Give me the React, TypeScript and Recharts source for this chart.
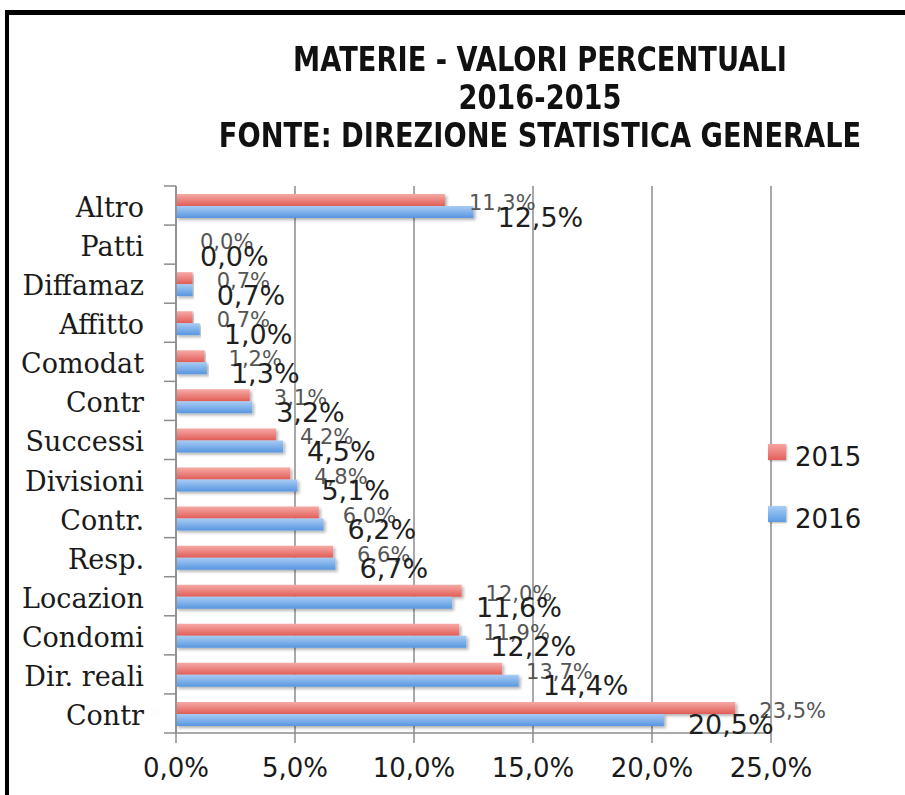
import { BarChart, Bar, XAxis, YAxis, CartesianGrid, Legend, LabelList } from 'recharts';

const categories = ['Altro', 'Patti', 'Diffamaz', 'Affitto', 'Comodat', 'Contr', 'Successi', 'Divisioni', 'Contr.', 'Resp.', 'Locazion', 'Condomi', 'Dir. reali', 'Contr'];
const values2015 = [11.3, 0.0, 0.7, 0.7, 1.2, 3.1, 4.2, 4.8, 6.0, 6.6, 12.0, 11.9, 13.7, 23.5];
const values2016 = [12.5, 0.0, 0.7, 1.0, 1.3, 3.2, 4.5, 5.1, 6.2, 6.7, 11.6, 12.2, 14.4, 20.5];
const xTicks = [0, 5, 10, 15, 20, 25];
const titleLines = ['MATERIE - VALORI PERCENTUALI', '2016-2015', 'FONTE: DIREZIONE STATISTICA GENERALE'];

const data = categories.map((name, i) => ({ name, y2015: values2015[i], y2016: values2016[i] }));

const PLOT_LEFT = 176;
const PLOT_TOP = 186;
const PLOT_BOTTOM = 733;
const BAND = (PLOT_BOTTOM - PLOT_TOP) / categories.length;

const fmt = (v: number) => v.toFixed(1).replace('.', ',') + '%';

const SANS = '"DejaVu Sans", Verdana, sans-serif';
const SERIF = '"DejaVu Serif", Georgia, serif';

function CatTick(props: any) {
  const { y, payload, index } = props;
  return (
    <g>
      <text x={144} y={y + 2} textAnchor="end" dominantBaseline="central" fontFamily={SERIF} fontSize={27} fill="#1a1a1a">
        {payload.value}
      </text>
      <line x1={164} x2={PLOT_LEFT} y1={y - BAND / 2} y2={y - BAND / 2} stroke="#8c8c8c" strokeWidth={1.5} />
      {index === categories.length - 1 && (
        <line x1={164} x2={PLOT_LEFT} y1={y + BAND / 2} y2={y + BAND / 2} stroke="#8c8c8c" strokeWidth={1.5} />
      )}
    </g>
  );
}

function ValTick(props: any) {
  const { x, payload } = props;
  return (
    <text x={x} y={768} textAnchor="middle" dominantBaseline="central" fontFamily={SANS} fontSize={26} fill="#1a1a1a">
      {fmt(payload.value)}
    </text>
  );
}

const makeLabel = (dy: number, size: number, color: string) => (props: any) => {
  const { x, y, width, height, value } = props;
  return (
    <text x={x + width + 24} y={y + height / 2 + dy} dominantBaseline="central" fontFamily={SANS} fontSize={size} fill={color}>
      {fmt(Number(value) || 0)}
    </text>
  );
};

function LegendBox(props: any) {
  const items = props.payload || [];
  return (
    <div>
      {items.map((it: any, i: number) => (
        <div key={it.value} style={{ display: 'flex', alignItems: 'center', height: 22, marginBottom: i === 0 ? 40 : 0 }}>
          <div
            style={{
              width: 18,
              height: 16,
              background: i === 0 ? 'linear-gradient(#f5a6a2, #e45f59)' : 'linear-gradient(#a9cdf5, #5b9be2)',
              boxShadow: '1px 1px 2px rgba(0,0,0,0.3)',
            }}
          />
          <span style={{ marginLeft: 9, position: 'relative', top: 5, fontFamily: SANS, fontSize: 26, color: '#1a1a1a', lineHeight: '22px' }}>
            {it.value}
          </span>
        </div>
      ))}
    </div>
  );
}

export default function App() {
  return (
    <div style={{ position: 'relative', width: 905, height: 795, background: '#fff', overflow: 'hidden' }}>
      <style>{'body{margin:0;background:#fff}'}</style>
      <div
        style={{
          position: 'absolute',
          left: 5,
          top: 10,
          width: 905,
          height: 800,
          borderLeft: '4px solid #000',
          borderTop: '5px solid #000',
          boxSizing: 'border-box',
        }}
      />
      {titleLines.map((t, i) => (
        <div
          key={t}
          style={{
            position: 'absolute',
            left: 140,
            width: 800,
            top: 40 + i * 38,
            height: 38,
            lineHeight: '38px',
            textAlign: 'center',
            fontFamily: '"DejaVu Sans", sans-serif',
            fontWeight: 'bold',
            fontSize: 31,
            color: '#111',
            transform: 'scale(0.88, 1.06)',
          }}
        >
          {t}
        </div>
      ))}
      <div style={{ position: 'absolute', left: 0, top: 0 }}>
        <BarChart
          width={905}
          height={795}
          data={data}
          layout="vertical"
          margin={{ top: PLOT_TOP, right: 905 - 771, left: 0, bottom: 0 }}
          barSize={12}
          barGap={0}
        >
          <defs>
            <linearGradient id="g2015" x1="0" y1="0" x2="0" y2="1">
              <stop offset="0%" stopColor="#f6aaa6" />
              <stop offset="100%" stopColor="#e15d57" />
            </linearGradient>
            <linearGradient id="g2016" x1="0" y1="0" x2="0" y2="1">
              <stop offset="0%" stopColor="#a8ccf4" />
              <stop offset="100%" stopColor="#5896e0" />
            </linearGradient>
            <filter id="shadow" x="-5%" y="-50%" width="110%" height="250%">
              <feDropShadow dx="2" dy="2" stdDeviation="1.5" floodColor="#000" floodOpacity="0.3" />
            </filter>
          </defs>
          <CartesianGrid horizontal={false} stroke="#8c8c8c" strokeWidth={1.5} />
          <XAxis
            type="number"
            domain={[0, 25]}
            ticks={xTicks}
            height={795 - PLOT_BOTTOM}
            axisLine={{ stroke: '#8c8c8c', strokeWidth: 1.5 }}
            tickLine={{ stroke: '#8c8c8c', strokeWidth: 1.5 }}
            tickSize={10}
            tick={<ValTick />}
            interval={0}
          />
          <YAxis
            type="category"
            dataKey="name"
            width={PLOT_LEFT}
            axisLine={{ stroke: '#8c8c8c', strokeWidth: 1.5 }}
            tickLine={false}
            tick={<CatTick />}
            interval={0}
          />
          <Legend
            layout="horizontal"
            verticalAlign="middle"
            align="center"
            content={<LegendBox />}
            wrapperStyle={{ position: 'absolute', left: 768, top: 441, width: 120, height: 90 }}
          />
          <Bar dataKey="y2015" name="2015" fill="url(#g2015)" filter="url(#shadow)" minPointSize={0.01} isAnimationActive={false}>
            <LabelList dataKey="y2015" content={makeLabel(3, 21, '#555')} />
          </Bar>
          <Bar dataKey="y2016" name="2016" fill="url(#g2016)" filter="url(#shadow)" minPointSize={0.01} isAnimationActive={false}>
            <LabelList dataKey="y2016" content={makeLabel(5, 27, '#1f1f1f')} />
          </Bar>
        </BarChart>
      </div>
    </div>
  );
}
